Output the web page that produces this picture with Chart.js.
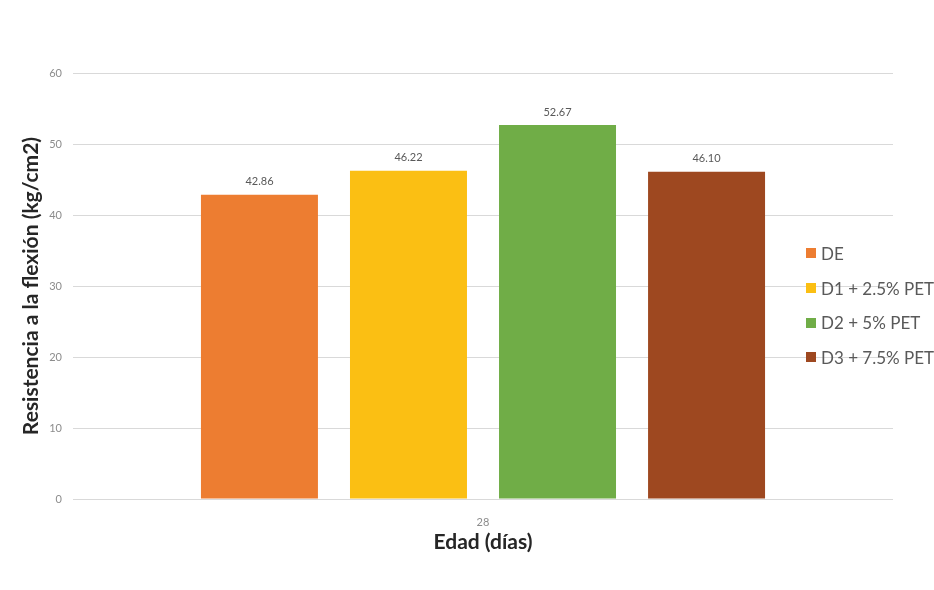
<!DOCTYPE html>
<html>
<head>
<meta charset="utf-8">
<script src="https://cdn.jsdelivr.net/npm/chart.js@4"></script>
<style>
  html, body { margin: 0; padding: 0; background: #ffffff; }
  #wrap { position: relative; width: 934px; height: 590px; overflow: hidden; }
  #legend { position: absolute; left: 806px; top: 236px; font-family: Lato, "Open Sans", sans-serif; font-size: 17px; color: #595959; white-space: nowrap; }
  #legend .row { height: 34.7px; display: flex; align-items: center; }
  #legend .box { width: 10px; height: 10px; margin-right: 5px; }
</style>
</head>
<body>
<div id="wrap">
  <canvas id="c" width="934" height="590"></canvas>
  <div id="legend"></div>
</div>
<script>
const categories = ["28"];
const seriesNames = ["DE", "D1 + 2.5% PET", "D2 + 5% PET", "D3 + 7.5% PET"];
const seriesValues = [[42.86], [46.22], [52.67], [46.10]];
const seriesColors = ["#ED7D31", "#FBBF13", "#70AD47", "#9E4820"];
const yTicks = [0, 10, 20, 30, 40, 50, 60];
const xTitle = "Edad (días)";
const yTitle = "Resistencia a la flexión (kg/cm2)";

const datasets = seriesNames.map((n, i) => ({
  label: n,
  data: seriesValues[i],
  backgroundColor: seriesColors[i],
  borderWidth: 0,
  categoryPercentage: 0.727,
  barPercentage: 0.785
}));

const valueLabels = {
  id: 'valueLabels',
  afterDatasetsDraw(chart) {
    const ctx = chart.ctx;
    ctx.save();
    ctx.font = '11px Lato, "Open Sans", sans-serif';
    ctx.fillStyle = '#595959';
    ctx.textAlign = 'center';
    ctx.textBaseline = 'middle';
    chart.data.datasets.forEach((ds, di) => {
      const meta = chart.getDatasetMeta(di);
      meta.data.forEach((el, i) => {
        ctx.fillText(Number(ds.data[i]).toFixed(2), el.x, el.y - 13);
      });
    });
    ctx.restore();
  }
};

new Chart(document.getElementById('c'), {
  type: 'bar',
  data: { labels: categories, datasets },
  options: {
    responsive: false,
    animation: false,
    layout: { padding: { top: 73, right: 41, left: 0, bottom: 0 } },
    plugins: { legend: { display: false }, tooltip: { enabled: false } },
    scales: {
      x: {
        grid: { display: false },
        border: { display: false },
        ticks: { color: '#8c8c8c', font: { family: 'Lato', size: 11 }, padding: 9 },
        title: { display: true, text: xTitle, color: '#262626', font: { family: 'Lato', size: 21, weight: 'bold' }, padding: { top: 0, bottom: 35 } },
        afterFit(s) { s.height = 91; }
      },
      y: {
        min: 0, max: 60,
        afterBuildTicks(s) { s.ticks = yTicks.map(v => ({ value: v })); },
        grid: { color: '#d9d9d9', lineWidth: 1, drawTicks: false },
        border: { display: false },
        ticks: { color: '#8c8c8c', font: { family: 'Lato', size: 11 }, padding: 11 },
        title: { display: true, text: yTitle, color: '#262626', font: { family: 'Lato', size: 21, weight: 'bold' }, padding: { top: 19, bottom: 0 } },
        afterFit(s) { s.width = 73; }
      }
    }
  },
  plugins: [valueLabels]
});

const lg = document.getElementById('legend');
seriesNames.forEach((n, i) => {
  const r = document.createElement('div');
  r.className = 'row';
  const b = document.createElement('span');
  b.className = 'box';
  b.style.background = seriesColors[i];
  const t = document.createElement('span');
  t.textContent = n;
  r.appendChild(b); r.appendChild(t);
  lg.appendChild(r);
});
</script>
</body>
</html>
